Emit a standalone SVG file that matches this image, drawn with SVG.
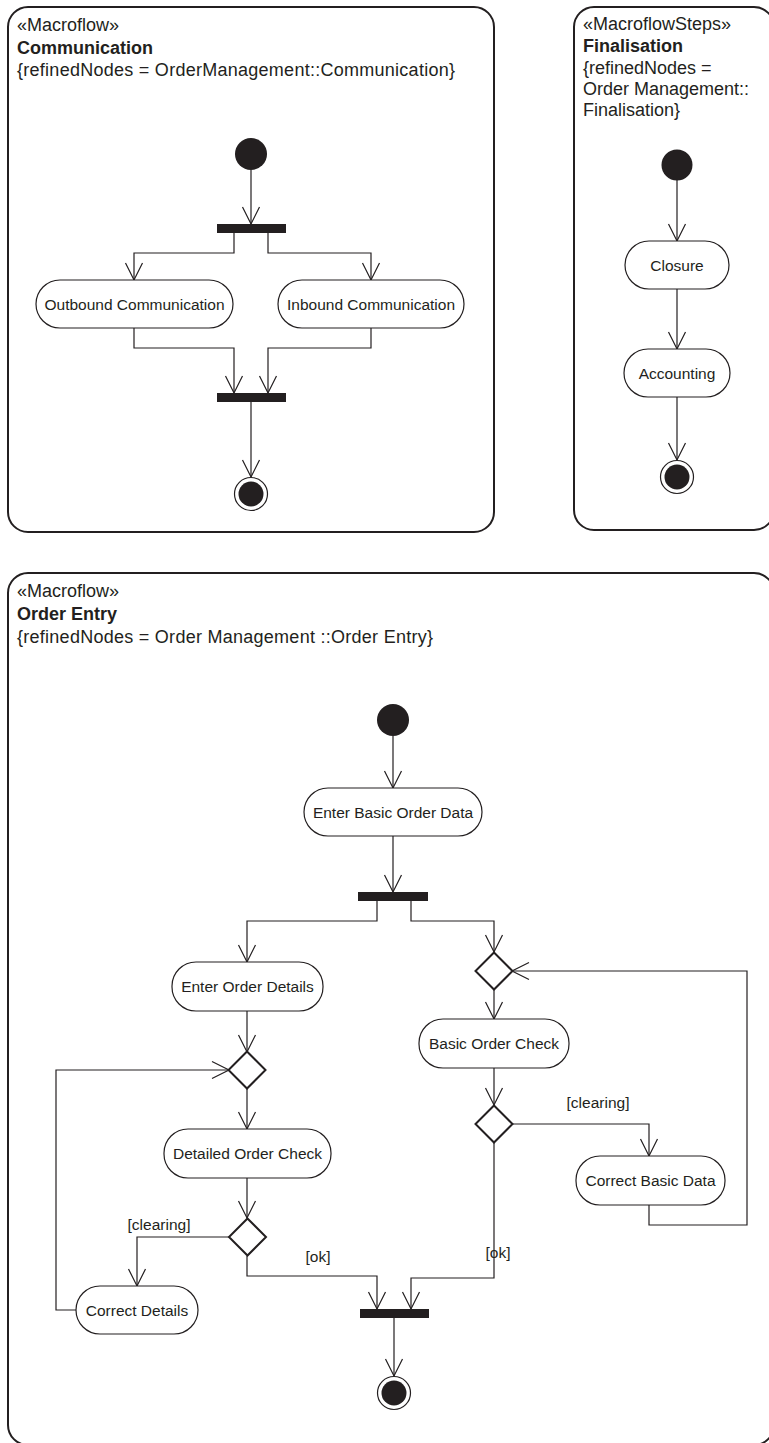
<svg xmlns="http://www.w3.org/2000/svg" width="769" height="1443" viewBox="0 0 769 1443">
<style>
.frame{fill:none;stroke:#231f20;stroke-width:2}
.act{fill:#fff;stroke:#231f20;stroke-width:1.2}
.bar{fill:#231f20}
.dec{fill:#fff;stroke:#231f20;stroke-width:2}
.ini{fill:#231f20}
.fo{fill:#fff;stroke:#231f20;stroke-width:1.2}
.fi{fill:#231f20}
.t{font-family:"Liberation Sans",Arial,sans-serif;font-size:15.5px;fill:#231f20;text-anchor:middle}
.h{font-family:"Liberation Sans",Arial,sans-serif;font-size:18px;fill:#231f20}
.hb{font-family:"Liberation Sans",Arial,sans-serif;font-size:18px;font-weight:bold;fill:#231f20}
.c{fill:none;stroke:#231f20;stroke-width:1.2;marker-end:url(#arr)}
.cn{fill:none;stroke:#231f20;stroke-width:1.2}
</style>
<defs>
<marker id="arr" markerUnits="userSpaceOnUse" viewBox="-19 -10 21 20" markerWidth="21" markerHeight="20" refX="0" refY="0" orient="auto">
<path d="M-17,-8.5 L0,0 L-17,8.5" fill="none" stroke="#231f20" stroke-width="1.2"/>
</marker>
</defs>

<g id="frame-communication">
<rect class="frame" x="8" y="7" width="486" height="525" rx="20"/>
<text class="h" x="17" y="31">«Macroflow»</text>
<text class="hb" x="17" y="54">Communication</text>
<text class="h" x="17" y="76" textLength="438" lengthAdjust="spacing">{refinedNodes = OrderManagement::Communication}</text>
</g>
<g id="frame-finalisation">
<rect class="frame" x="574" y="7" width="200" height="523" rx="20"/>
<text class="h" x="583" y="30">«MacroflowSteps»</text>
<text class="hb" x="583" y="52">Finalisation</text>
<text class="h" x="583" y="74">{refinedNodes =</text>
<text class="h" x="583" y="95">Order Management::</text>
<text class="h" x="583" y="116">Finalisation}</text>
</g>
<g id="frame-orderentry">
<rect class="frame" x="8" y="573" width="766" height="872" rx="20"/>
<text class="h" x="17" y="597">«Macroflow»</text>
<text class="hb" x="17" y="620">Order Entry</text>
<text class="h" x="17" y="643" textLength="416" lengthAdjust="spacing">{refinedNodes = Order Management ::Order Entry}</text>
</g>

<g id="connectors">
<path class="c" d="M251,170 V224"/>
<path class="c" d="M234,233 V253 H134 V280"/>
<path class="c" d="M268,233 V253 H371 V280"/>
<path class="c" d="M134,328 V348 H234 V393"/>
<path class="c" d="M371,328 V348 H268 V393"/>
<path class="c" d="M251,402 V477"/>
<path class="c" d="M677,180 V241"/>
<path class="c" d="M677,289 V349"/>
<path class="c" d="M677,397 V460"/>
<path class="c" d="M393,736 V788"/>
<path class="c" d="M393,836 V892"/>
<path class="c" d="M377,901 V921 H247 V962"/>
<path class="c" d="M411,901 V921 H494 V952"/>
<path class="c" d="M247,1011 V1052"/>
<path class="c" d="M247,1088 V1129"/>
<path class="c" d="M247,1178 V1218"/>
<path class="c" d="M229,1237 H137 V1286"/>
<path class="c" d="M76,1310 H56 V1070 H229"/>
<path class="c" d="M247,1256 V1276 H377 V1309"/>
<path class="c" d="M494,989 V1019"/>
<path class="c" d="M494,1068 V1105"/>
<path class="c" d="M513,1124 H649 V1156"/>
<path class="c" d="M649,1205 V1225 H747 V971 H512"/>
<path class="c" d="M494,1143 V1278 H411 V1309"/>
<path class="c" d="M394,1318 V1376"/>
<text class="t" x="598" y="1108">[clearing]</text>
<text class="t" x="159" y="1230">[clearing]</text>
<text class="t" x="318" y="1262">[ok]</text>
<text class="t" x="498" y="1258">[ok]</text>
</g>

<g id="c-initial"><circle class="ini" cx="251" cy="154" r="16"/></g>
<g id="c-fork"><rect class="bar" x="217" y="224" width="69" height="9"/></g>
<g id="c-outbound"><rect class="act" x="36" y="280" width="197" height="48" rx="24"/><text class="t" x="134.5" y="309.5">Outbound Communication</text></g>
<g id="c-inbound"><rect class="act" x="278" y="280" width="186" height="48" rx="24"/><text class="t" x="371" y="309.5">Inbound Communication</text></g>
<g id="c-join"><rect class="bar" x="217" y="393" width="69" height="9"/></g>
<g id="c-final"><circle class="fo" cx="251" cy="494" r="16.5"/><circle class="fi" cx="251" cy="494" r="12.5"/></g>

<g id="f-initial"><circle class="ini" cx="677" cy="165" r="15.5"/></g>
<g id="f-closure"><rect class="act" x="625" y="241" width="104" height="48" rx="24"/><text class="t" x="677" y="270.5">Closure</text></g>
<g id="f-accounting"><rect class="act" x="624" y="349" width="106" height="48" rx="24"/><text class="t" x="677" y="378.5">Accounting</text></g>
<g id="f-final"><circle class="fo" cx="677" cy="477" r="16.5"/><circle class="fi" cx="677" cy="477" r="12.5"/></g>

<g id="o-initial"><circle class="ini" cx="393" cy="720" r="16"/></g>
<g id="o-enterbasic"><rect class="act" x="304" y="788" width="178" height="48" rx="24"/><text class="t" x="393" y="817.5">Enter Basic Order Data</text></g>
<g id="o-fork"><rect class="bar" x="358" y="892" width="70" height="9"/></g>
<g id="o-enterdetails"><rect class="act" x="172" y="962" width="151" height="49" rx="24"/><text class="t" x="247.5" y="992">Enter Order Details</text></g>
<g id="o-merge1"><polygon class="dec" points="247,1051.5 265.5,1070 247,1088.5 228.5,1070"/></g>
<g id="o-detailedcheck"><rect class="act" x="164" y="1129" width="167" height="49" rx="24"/><text class="t" x="247.5" y="1159">Detailed Order Check</text></g>
<g id="o-decision1"><polygon class="dec" points="247.5,1218.5 266,1237 247.5,1255.5 229,1237"/></g>
<g id="o-correctdetails"><rect class="act" x="76" y="1286" width="122" height="48" rx="24"/><text class="t" x="137" y="1315.5">Correct Details</text></g>
<g id="o-merge2"><polygon class="dec" points="494,952.5 512.5,971 494,989.5 475.5,971"/></g>
<g id="o-basiccheck"><rect class="act" x="419" y="1019" width="150" height="49" rx="24"/><text class="t" x="494" y="1049">Basic Order Check</text></g>
<g id="o-decision2"><polygon class="dec" points="494,1105.5 512.5,1124 494,1142.5 475.5,1124"/></g>
<g id="o-correctbasic"><rect class="act" x="576" y="1156" width="149" height="49" rx="24"/><text class="t" x="650.5" y="1186">Correct Basic Data</text></g>
<g id="o-join"><rect class="bar" x="360" y="1309" width="69" height="9"/></g>
<g id="o-final"><circle class="fo" cx="394" cy="1393" r="16.5"/><circle class="fi" cx="394" cy="1393" r="12.5"/></g>
</svg>
